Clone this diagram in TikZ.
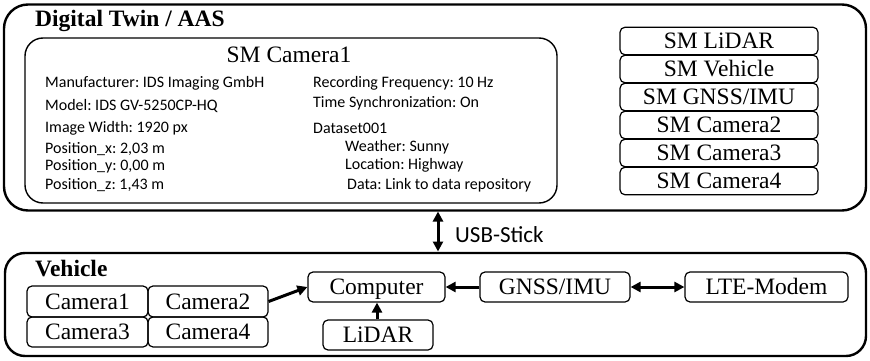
\documentclass[tikz,border=0pt]{standalone}
\usepackage{fontspec}
\setmainfont{Liberation Serif}
\newfontfamily\detailfont{Carlito}
\usetikzlibrary{arrows.meta}
\frenchspacing
\begin{document}
\begin{tikzpicture}[x=1pt,y=-1pt,
  bigbox/.style={draw, line width=2.4pt, rounded corners=24pt, inner sep=0pt},
  smbox/.style={draw, line width=1.2pt, rounded corners=5pt, inner sep=0pt,
    text height=15.5pt, text depth=0pt,
    font=\fontsize{23.5}{25}\selectfont},
  title/.style={anchor=base west, inner sep=0pt, font=\fontsize{23.5}{25}\bfseries\selectfont},
  detail/.style={anchor=west, inner sep=0pt, font=\detailfont\fontsize{16}{18}\selectfont},
  conn/.style={line width=3pt, -{Triangle[length=10pt,width=10pt]}},
  dconn/.style={line width=3pt, {Triangle[length=10pt,width=10pt]}-{Triangle[length=10pt,width=10pt]}}
]
\useasboundingbox (0,0) rectangle (870,361);

% Digital Twin box
\node[bigbox, minimum width=862pt, minimum height=206pt] (dt) at (435,107.5) {};
\node[title] (dttitle) at (35,27) {Digital Twin / AAS};

% SM Camera1 box
\node[draw, line width=1.4pt, rounded corners=18pt, minimum width=532pt, minimum height=165pt, inner sep=0pt] (cam1box) at (291,120.5) {};
\node[anchor=base, inner sep=0pt, font=\fontsize{23.5}{25}\selectfont] (cam1title) at (289,63) {SM Camera1};

\node[detail] (d1) at (45,83) {Manufacturer: IDS Imaging GmbH};
\node[detail] (d2) at (45,106) {Model: IDS GV-5250CP-HQ};
\node[detail] (d3) at (45,128) {Image Width: 1920 px};
\node[detail] (d4) at (45,149) {Position\_x: 2,03 m};
\node[detail] (d5) at (45,166) {Position\_y: 0,00 m};
\node[detail] (d6) at (45,185) {Position\_z: 1,43 m};

\node[detail] (r1) at (313,83) {Recording Frequency: 10 Hz};
\node[detail] (r2) at (313,103) {Time Synchronization: On};
\node[detail] (r3) at (313,128) {Dataset001};
\node[detail] (r4) at (345,147) {Weather: Sunny};
\node[detail] (r5) at (345,165) {Location: Highway};
\node[detail] (r6) at (347,185) {Data: Link to data repository};

% SM list
\node[smbox, minimum width=198pt, minimum height=27.5pt] (smlidar) at (719,41) {SM LiDAR};
\node[smbox, minimum width=198pt, minimum height=27.5pt] (smveh) at (719,69) {SM Vehicle};
\node[smbox, minimum width=198pt, minimum height=27.5pt] (smgnss) at (719,97) {SM GNSS/IMU};
\node[smbox, minimum width=198pt, minimum height=27.5pt] (smcam2) at (719,125) {SM Camera2};
\node[smbox, minimum width=198pt, minimum height=27.5pt] (smcam3) at (719,153) {SM Camera3};
\node[smbox, minimum width=198pt, minimum height=27.5pt] (smcam4) at (719,181) {SM Camera4};

% Vehicle box
\node[bigbox, rounded corners=20pt, minimum width=861pt, minimum height=103pt] (veh) at (435.5,304.5) {};
\node[title] (vehtitle) at (35,276) {Vehicle};

\node[smbox, minimum width=121pt, minimum height=31pt] (c1) at (87.5,301.5) {Camera1};
\node[smbox, minimum width=120pt, minimum height=31pt] (c2) at (208,301.5) {Camera2};
\node[smbox, minimum width=121pt, minimum height=30pt] (c3) at (87.5,332) {Camera3};
\node[smbox, minimum width=120pt, minimum height=30pt] (c4) at (208,332) {Camera4};

\node[smbox, minimum width=137pt, minimum height=30pt] (comp) at (376.5,287) {Computer};
\node[smbox, minimum width=110pt, minimum height=30pt] (lidar) at (378,335) {LiDAR};
\node[smbox, minimum width=150pt, minimum height=30pt] (gnss) at (555,287) {GNSS/IMU};
\node[smbox, minimum width=163pt, minimum height=30pt] (lte) at (766.5,287) {LTE-Modem};

% connectors
\coordinate (usbtop) at (438,211.5);
\coordinate (usbbot) at (438,251.5);
\draw[dconn] (usbtop) -- (usbbot);
\node[anchor=west, inner sep=0pt, font=\detailfont\fontsize{23}{25}\selectfont] (usb) at (455,235) {USB-Stick};

\draw[conn] (c2.east) -- (comp.west);
\draw[conn] (lidar.north -| 377,0) -- (comp.south -| 377,0);
\draw[conn] (gnss.west) -- (comp.east);
\draw[dconn] (gnss.east) -- (lte.west);
\end{tikzpicture}
\end{document}
